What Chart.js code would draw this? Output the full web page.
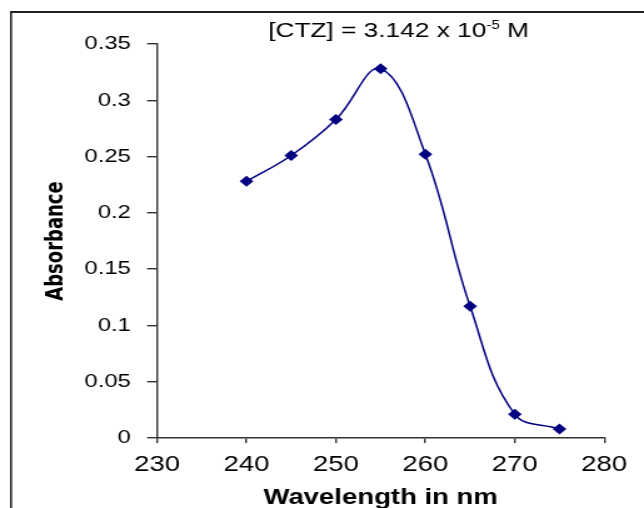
<!DOCTYPE html>
<html><head><meta charset="utf-8">
<script src="https://cdn.jsdelivr.net/npm/chart.js@4/dist/chart.umd.min.js"></script>
<style>
html,body{margin:0;padding:0;background:#fff;overflow:hidden;width:644px;height:508px}
#wrap{position:absolute;left:0;top:0;width:515px;height:508px;transform:scaleX(1.2505);transform-origin:0 0}
</style></head><body>
<div id="wrap"><canvas id="c" width="515" height="508"></canvas></div>
<script>
const wavelengths = [240, 245, 250, 255, 260, 265, 270, 275];
const absorbance = [0.228, 0.251, 0.283, 0.328, 0.252, 0.117, 0.021, 0.008];
const xTicks = [230, 240, 250, 260, 270, 280];
const xTickLabels = ['230', '240', '250', '260', '270', '280'];
const yTicks = [0, 0.05, 0.1, 0.15, 0.2, 0.25, 0.3, 0.35];
const yTickLabels = ['0', '0.05', '0.1', '0.15', '0.2', '0.25', '0.3', '0.35'];
const titleMain = '[CTZ] = 3.142 x 10';
const titleSup = '-5';
const titleEnd = ' M';
const xTitle = 'Wavelength in nm';
const yTitle = 'Absorbance';

// detect a condensed font for the y-axis title
function hasFont(name) {
  const c = document.createElement('canvas').getContext('2d');
  const s = 'Absorbance Wmwl 0123';
  c.font = '40px monospace'; const a = c.measureText(s).width;
  c.font = '40px "' + name + '", monospace'; const b = c.measureText(s).width;
  c.font = '40px serif'; const a2 = c.measureText(s).width;
  c.font = '40px "' + name + '", serif'; const b2 = c.measureText(s).width;
  return a !== b || a2 !== b2;
}
let yTitleFont = {family: '"Liberation Sans", Arial, sans-serif', size: 19, weight: 'bold', lineHeight: 1.2};
if (hasFont('Liberation Sans Narrow')) {
  yTitleFont = {family: '"Liberation Sans Narrow", sans-serif', size: 23, weight: 'bold', lineHeight: 1.2};
} else if (hasFont('DejaVu Sans Condensed')) {
  yTitleFont = {family: '"DejaVu Sans Condensed", sans-serif', size: 20, weight: 'bold', lineHeight: 1.2};
}
const yTitlePad = 44.8 - yTitleFont.size * 1.2 / 2;

const framePlugin = {
  id: 'frame',
  beforeDraw(chart) {
    const ctx = chart.ctx;
    ctx.save();
    ctx.fillStyle = '#fff';
    ctx.fillRect(0, 0, chart.width, chart.height);
    ctx.strokeStyle = '#222';
    ctx.lineWidth = 1.6;
    ctx.beginPath(); ctx.moveTo(8.8, 520); ctx.lineTo(8.8, 12); ctx.stroke();
    ctx.lineWidth = 2;
    ctx.beginPath(); ctx.moveTo(8, 12); ctx.lineTo(chart.width + 5, 12); ctx.stroke();
    ctx.restore();
  },
  afterDraw(chart) {
    const ctx = chart.ctx;
    ctx.save();
    ctx.fillStyle = '#000';
    ctx.textBaseline = 'alphabetic';
    ctx.textAlign = 'left';
    let x = 214.4;
    ctx.font = '21px "Liberation Sans", Arial, sans-serif';
    ctx.fillText(titleMain, x, 37);
    x += ctx.measureText(titleMain).width;
    ctx.font = '12px "Liberation Sans", Arial, sans-serif';
    ctx.fillText(titleSup, x, 28.5);
    x += ctx.measureText(titleSup).width;
    ctx.font = '21px "Liberation Sans", Arial, sans-serif';
    ctx.fillText(titleEnd, x, 37);
    ctx.restore();
  }
};

const axisColor = '#333';
new Chart(document.getElementById('c'), {
  type: 'line',
  data: {
    datasets: [{
      data: wavelengths.map((w, i) => ({x: w, y: absorbance[i]})),
      borderColor: '#000080',
      backgroundColor: '#000080',
      borderWidth: 1.5,
      tension: 0.4,
      pointStyle: 'rectRot',
      pointRadius: 5.5,
      pointBackgroundColor: '#000080',
      pointBorderColor: '#000080',
      pointBorderWidth: 0,
      fill: false
    }]
  },
  options: {
    responsive: false,
    devicePixelRatio: 1,
    animation: false,
    layout: {padding: {left: 0, top: 44, right: 31.8, bottom: 0}},
    plugins: {legend: {display: false}, tooltip: {enabled: false}, title: {display: false}},
    scales: {
      x: {
        type: 'linear', min: 230, max: 280,
        afterBuildTicks: s => { s.ticks = xTicks.map(v => ({value: v})); },
        afterFit: s => { s.height = 70; },
        ticks: {
          callback: (v, i) => xTickLabels[i],
          color: '#000', padding: 9, maxRotation: 0, autoSkip: false,
          font: {family: '"Liberation Sans", Arial, sans-serif', size: 22}
        },
        grid: {display: true, drawOnChartArea: false, drawTicks: true, tickLength: 5, color: axisColor, lineWidth: 1.4},
        border: {display: true, color: axisColor, width: 1.6},
        title: {display: true, text: xTitle, color: '#000', padding: {top: 0, bottom: 0},
          font: {family: '"Liberation Sans", Arial, sans-serif', size: 22, weight: 'bold', lineHeight: 0.9}}
      },
      y: {
        type: 'linear', min: 0, max: 0.35,
        afterBuildTicks: s => { s.ticks = yTicks.map(v => ({value: v})); },
        afterFit: s => { s.width = 125.6; },
        ticks: {
          callback: (v, i) => yTickLabels[i],
          color: '#000', padding: 13, autoSkip: false,
          font: {family: '"Liberation Sans", Arial, sans-serif', size: 19}
        },
        grid: {display: true, drawOnChartArea: false, drawTicks: true, tickLength: 8, color: axisColor, lineWidth: 1.4},
        border: {display: true, color: axisColor, width: 1.4},
        title: {display: true, text: yTitle, color: '#000', padding: {top: yTitlePad, bottom: 0},
          font: yTitleFont}
      }
    }
  },
  plugins: [framePlugin]
});
</script>
</body></html>
